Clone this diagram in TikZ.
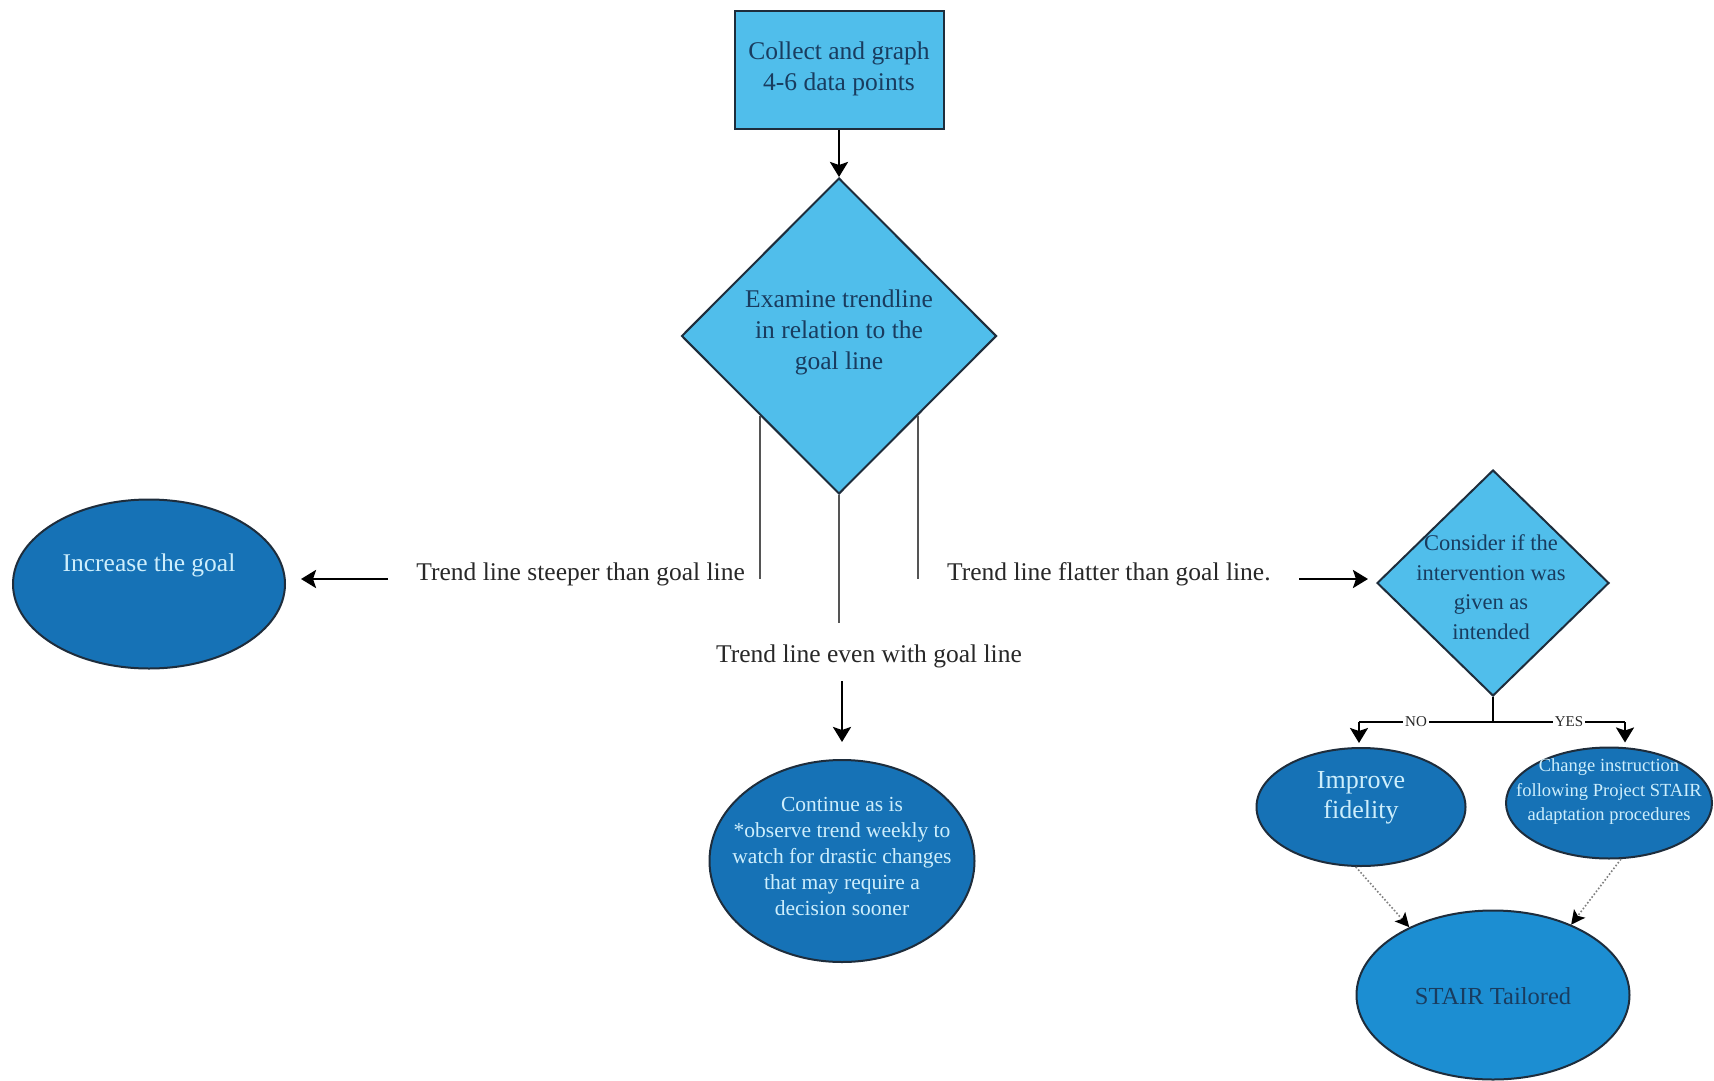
\documentclass[tikz,border=0pt]{standalone}
\usepackage{fontspec}
\setmainfont{Liberation Serif}
\usetikzlibrary{shapes.geometric,arrows.meta,calc}

\definecolor{boxblue}{RGB}{80,190,235}
\definecolor{darkfill}{RGB}{22,114,182}
\definecolor{midfill}{RGB}{28,142,210}
\definecolor{edge}{RGB}{30,45,60}
\definecolor{navytext}{RGB}{25,60,95}
\definecolor{palettext}{RGB}{205,238,252}
\definecolor{labeltext}{RGB}{40,40,40}
\definecolor{stem}{RGB}{85,85,85}

\begin{document}
\begin{tikzpicture}[x=1pt,y=-1pt,
  outline/.style={draw=edge, line width=2pt, inner sep=0pt},
  lightbox/.style={outline, fill=boxblue},
  darkoval/.style={outline, ellipse, fill=darkfill},
  midoval/.style={outline, ellipse, fill=midfill},
  decision/.style={outline, diamond, fill=boxblue},
  intext/.style={align=center, inner sep=0pt, text=navytext},
  outtext/.style={align=center, inner sep=0pt, text=palettext},
  lbl/.style={inner sep=0pt, text=labeltext},
  mainsize/.style={font=\fontsize{25.5}{31}\selectfont},
  arr/.style={line width=2.8pt, -{Stealth[length=15pt,width=18pt,inset=3pt]}},
  branch/.style={line width=2.4pt},
  stemline/.style={draw=stem, line width=2.2pt},
  dots/.style={draw=gray, line width=1.6pt, dotted, -{Stealth[length=14pt,width=14pt,inset=3pt,color=black]}},
  tag/.style={fill=white, inner sep=2pt, text=labeltext, font=\fontsize{15}{18}\selectfont}
]
\useasboundingbox (0,0) rectangle (1714,1081);
\fill[white] (0,0) rectangle (1714,1081);

% shapes
\node[lightbox, minimum width=209pt, minimum height=117pt] (collect) at (839,70) {};
\node[decision, minimum width=315pt, minimum height=316pt] (exam) at (839,336) {};
\node[darkoval, minimum width=272pt, minimum height=169pt] (goal) at (149,584) {};
\node[darkoval, minimum width=265pt, minimum height=202pt] (cont) at (842,861) {};
\node[decision, minimum width=232pt, minimum height=226pt] (consider) at (1493,583) {};
\node[darkoval, minimum width=209pt, minimum height=118pt] (imp) at (1361,807) {};
\node[darkoval, minimum width=206pt, minimum height=111pt] (chg) at (1609,803) {};
\node[midoval, minimum width=273pt, minimum height=169pt] (stair) at (1493,995) {};

% texts inside the shapes
\node[intext, mainsize] (collect-t) at (839,69) {Collect and graph\\4-6 data points};
\node[intext, mainsize] (exam-t) at (839,332) {Examine trendline\\in relation to the\\goal line};
\node[outtext, mainsize] (goal-t) at (149,565) {Increase the goal};
\node[outtext, font=\fontsize{21.5}{26}\selectfont] (cont-t) at (842,856)
  {Continue as is\\*observe trend weekly to\\watch for drastic changes\\that may require a\\decision sooner};
\node[intext, font=\fontsize{22.5}{29.5}\selectfont] (consider-t) at (1491,587)
  {Consider if the\\intervention was\\given as\\intended};
\node[outtext, font=\fontsize{26}{30}\selectfont] (imp-t) at (1361,798) {Improve\\fidelity};
\node[outtext, font=\fontsize{18.5}{24.5}\selectfont] (chg-t) at (1609,792)
  {Change instruction\\following Project STAIR\\adaptation procedures};
\node[intext, font=\fontsize{24.5}{30}\selectfont] (stair-t) at (1493,996) {STAIR Tailored};

% branch labels
\node[lbl, mainsize, anchor=east] (steep) at (745,574) {Trend line steeper than goal line};
\node[lbl, mainsize] (even) at (869,656) {Trend line even with goal line};
\node[lbl, mainsize, anchor=west] (flat) at (947,574) {Trend line flatter than goal line.};

% stems leaving the first decision
\coordinate (labelrow) at (0,579);
\coordinate (evenrow) at (0,623);
\draw[stemline] (exam.south west) -- (exam.south west |- labelrow);
\draw[stemline] (exam.south east) -- (exam.south east |- labelrow);
\draw[stemline] (exam.south) -- (exam.south |- evenrow);

% arrows
\coordinate (steep-a) at (388,579);
\coordinate (flat-a) at (1299,579);
\coordinate (even-a) at (842,681);
\draw[arr] (collect.south) -- (exam.north);
\draw[arr, shorten >=15pt] (steep-a) -- (steep-a -| goal.east);
\draw[arr, shorten >=8pt] (flat-a) -- (flat-a -| consider.west);
\draw[arr, shorten >=17pt] (even-a) -- (cont.north);

% yes / no split
\coordinate (split) at (1493,722);
\coordinate (noend) at (1359,722);
\coordinate (yesend) at (1625,722);
\draw[branch] (consider.south) -- (split);
\draw[branch] (noend) -- (yesend);
\draw[arr, line width=2.4pt, shorten >=4pt] (noend) -- (imp.north -| noend);
\draw[arr, line width=2.4pt, shorten >=4pt] (yesend) -- (chg.north -| yesend);
\node[tag] (no) at (1416,722) {NO};
\node[tag] (yes) at (1569,722) {YES};

% dotted links into the final step
\draw[dots] (imp.-95) -- (stair.141);
\draw[dots] (chg.-78) -- (stair.42);
\end{tikzpicture}
\end{document}
